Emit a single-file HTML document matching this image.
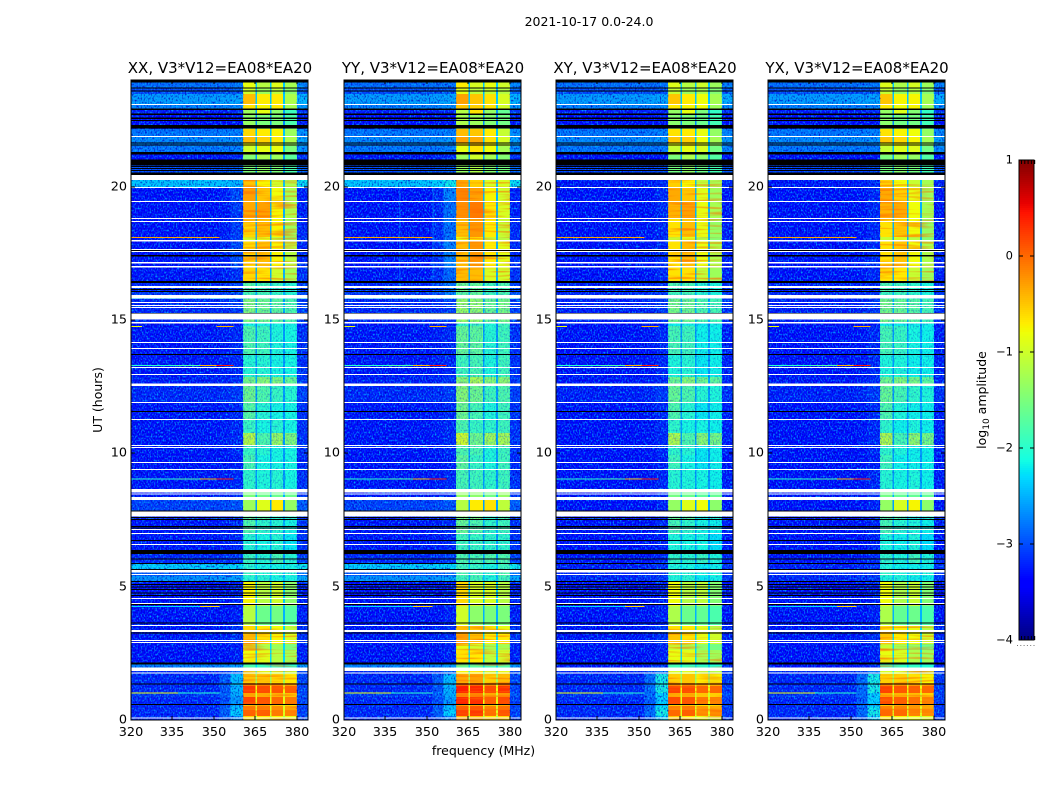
<!DOCTYPE html>
<html lang="en">
<head>
<meta charset="utf-8">
<title>2021-10-17 dynamic spectra</title>
<style>
html,body{margin:0;padding:0;background:#fff;}
body{width:1050px;height:800px;overflow:hidden;}
svg{display:block;}
text{font-family:"DejaVu Sans","Liberation Sans",sans-serif;fill:#000;}
</style>
</head>
<body>
<svg id="figure" xmlns="http://www.w3.org/2000/svg" width="1050" height="800" viewBox="0 0 1050 800">
  <defs>
    <filter id="speckle" x="0" y="0" width="100%" height="100%" color-interpolation-filters="sRGB">
      <feTurbulence type="fractalNoise" baseFrequency="0.68 0.5" numOctaves="1" seed="7" result="n"/>
      <feColorMatrix in="n" type="matrix" values="0 0 0 0 0  0 0 0 0 0.7  0 0 0 0 1  2.6 0 0 0 -1.2" result="light"/>
      <feColorMatrix in="n" type="matrix" values="0 0 0 0 0  0 0 0 0 0  0 0 0 0 0.75  0 2.6 0 0 -1.2" result="dark"/>
      <feMerge><feMergeNode in="dark"/><feMergeNode in="light"/></feMerge>
    </filter>
    <filter id="stripes" x="0" y="0" width="100%" height="100%" color-interpolation-filters="sRGB">
      <feTurbulence type="fractalNoise" baseFrequency="0.03 0.45" numOctaves="1" seed="11"/>
      <feColorMatrix type="matrix" values="0 0 0 0 1  0 0 0 0 0.4  0 0 0 0 0  2.2 0 0 0 -1.05"/>
    </filter>
  </defs>
  <text x="589" y="26" font-size="12.5" text-anchor="middle">2021-10-17 0.0-24.0</text>
  <g id="panels"></g>
  <text x="0" y="0" font-size="12.5" text-anchor="middle" transform="translate(102 400) rotate(-90)">UT (hours)</text>
  <text x="483.5" y="755" font-size="12.5" text-anchor="middle">frequency (MHz)</text>
  <g id="colorbar"></g>
  <text x="0" y="0" font-size="12.5" text-anchor="middle" transform="translate(986 400) rotate(-90)">log<tspan font-size="9" dy="3">10</tspan><tspan dy="-3"> amplitude</tspan></text>
</svg>
<script>
// ---- chart data (UT hours, MHz, log10 amplitude) ----
const panelTitles = ['XX, V3*V12=EA08*EA20','YY, V3*V12=EA08*EA20','XY, V3*V12=EA08*EA20','YX, V3*V12=EA08*EA20'];
const xTicks = [320,335,350,365,380];
const yTicks = [0,5,10,15,20];
const colorTicks = [1,0,-1,-2,-3,-4];
const freqEdges = [320,352,356,360.5,365,365.6,370.2,370.8,375,375.6,380,384];
const utEdges = [0,.15,.375,.525,.6,.863,1.013,1.275,1.388,1.725,
  1.838,2.1,2.175,2.625,2.85,3.263,3.525,4.275,5.213,5.4,
  5.625,5.888,6.375,7.013,7.5,7.838,8.25,8.625,9.375,9.938,
  10.313,10.763,11.25,11.888,12.525,12.863,13.725,14.775,14.925,15.788,
  15.938,16.088,16.463,16.95,17.963,18.113,18.675,18.825,19.425,19.95,
  20.25,20.475,20.813,21.038,21.188,21.3,21.525,21.638,21.9,22.163,
  22.313,22.538,22.688,22.875,23.1,23.475,23.7,23.888,24];
const offCo = [-3.25,-3.25,-3.25,-3.25,-3.25,-3.15,-3.25,-3.25,-3.25,-3.25,
  -2.75,-3.45,-3.45,-3.45,-3.35,-3.35,-3.45,-3.45,-2.65,-2.95,
  -2.3,-3.25,-3.35,-3.35,-3.3,-3.1,-3.35,-3.35,-3.4,-3.35,
  -3.35,-3.35,-3.35,-3.25,-3.3,-3.35,-3.35,-3.45,-3.25,-2.45,
  -3.15,-3.25,-3.35,-3.4,-3.35,-3.4,-3.45,-3.45,-3.45,-2.35,
  -3.05,-3.05,-3.35,-3.35,-3.35,-2.8,-2.75,-2.7,-2.8,-3.45,
  -3.45,-3.45,-3.3,-2.75,-2.6,-3.05,-2.85,-2.85];
const offCross = [-3.25,-3.25,-3.25,-3.25,-3.25,-3.15,-3.25,-3.25,-3.25,-3.25,
  -3.35,-3.45,-3.45,-3.45,-3.35,-3.35,-3.45,-3.45,-3.25,-3.25,
  -3.3,-3.35,-3.45,-3.4,-3.35,-3.45,-3.4,-3.4,-3.45,-3.4,
  -3.4,-3.4,-3.4,-3.3,-3.35,-3.4,-3.4,-3.45,-3.3,-3.2,
  -3.25,-3.3,-3.4,-3.4,-3.4,-3.4,-3.45,-3.45,-3.45,-3.35,
  -3.1,-3.1,-3.35,-3.45,-3.45,-2.8,-2.75,-2.7,-2.8,-3.45,
  -3.45,-3.45,-3.3,-2.75,-2.6,-3.05,-2.85,-2.85];
const nearCo = [-2.7,-2.3,-2.4,-2.6,-2.6,-2.5,-2.45,-2.4,-2.4,-2.9,
  -2.6,-3.3,-3.3,-3.3,-3.2,-3.2,-3.3,-3.3,-2.55,-2.85,
  -2.25,-3.15,-3.25,-3.25,-3.2,-3.0,-3.25,-3.25,-3.3,-3.25,
  -3.25,-3.25,-3.25,-3.15,-3.2,-3.25,-3.25,-3.35,-3.15,-2.4,
  -3.05,-3.15,-3.2,-3.05,-3.15,-3.15,-3.15,-3.15,-3.05,-2.45,
  -2.95,-2.95,-3.25,-3.25,-3.25,-2.75,-2.7,-2.65,-2.75,-3.35,
  -3.35,-3.35,-3.25,-2.7,-2.55,-2.95,-2.8,-2.8];
const nearCross = [-2.3,-2.1,-2.2,-2.5,-2.3,-2.3,-2.1,-2.1,-2.1,-2.8,
  -3.2,-3.3,-3.3,-3.3,-3.2,-3.2,-3.3,-3.3,-3.15,-3.2,
  -3.2,-3.25,-3.3,-3.25,-3.25,-3.3,-3.25,-3.25,-3.3,-3.25,
  -3.25,-3.25,-3.25,-3.15,-3.25,-3.25,-3.25,-3.35,-3.15,-3.15,
  -3.15,-3.25,-3.25,-3.25,-3.25,-3.25,-3.25,-3.25,-3.25,-3.25,
  -3.05,-3.05,-3.25,-3.35,-3.35,-2.8,-2.75,-2.65,-2.75,-3.35,
  -3.35,-3.35,-3.25,-2.7,-2.55,-3.0,-2.8,-2.8];
const sub1 = [-0.6,0.05,-0.1,-0.5,0.2,-0.3,0.25,-0.1,-0.5,-0.9,
  -1.8,-0.8,-0.8,-1.0,-0.45,-0.6,-1.15,-0.75,-2.0,-1.9,
  -2.0,-1.9,-2.0,-1.75,-1.6,-1.3,-1.5,-1.95,-1.8,-1.9,
  -1.1,-1.9,-1.7,-1.55,-1.5,-2.0,-1.75,-2.1,-1.45,-1.8,
  -1.8,-1.7,-0.6,-0.6,-1.0,-0.6,-0.6,-0.35,-0.3,-0.5,
  -1.5,-1.5,-1.5,-1.45,-1.2,-1.0,-0.8,-0.45,-0.6,-1.2,
  -1.35,-1.4,-1.3,-0.65,-0.45,-1.0,-0.85,-0.85];
const sub2 = [-0.7,0.05,-0.1,-0.5,0.1,-0.35,0.15,-0.15,-0.5,-0.9,
  -1.9,-0.9,-0.9,-1.2,-0.65,-0.7,-1.6,-1.15,-2.0,-2.0,
  -2.1,-2.0,-2.1,-1.95,-1.7,-0.9,-1.6,-2.05,-2.1,-2.0,
  -1.75,-2.1,-2.0,-1.75,-1.4,-2.0,-1.85,-2.1,-1.55,-1.8,
  -1.8,-1.8,-0.65,-0.45,-0.9,-0.45,-0.5,-0.3,-0.5,-0.75,
  -1.5,-1.4,-1.4,-1.2,-1.2,-0.85,-0.7,-0.55,-0.7,-1.2,
  -1.5,-1.5,-0.85,-0.75,-0.7,-1.3,-1.15,-1.15];
const sub3 = [-0.75,-0.1,-0.2,-0.55,0.0,-0.4,0.1,-0.2,-0.6,-1.0,
  -1.9,-1.15,-1.15,-1.3,-0.75,-0.8,-1.55,-1.0,-2.1,-2.0,
  -2.1,-1.8,-2.0,-2.0,-2.0,-0.7,-1.6,-2.0,-2.1,-2.1,
  -1.3,-2.0,-2.1,-1.9,-1.45,-2.1,-2.05,-2.1,-1.65,-1.9,
  -1.9,-1.9,-1.0,-0.75,-1.1,-0.75,-0.75,-0.75,-0.8,-1.0,
  -1.5,-1.5,-1.4,-1.3,-1.2,-0.85,-0.8,-0.7,-0.75,-1.2,
  -1.5,-1.5,-1.4,-0.7,-0.7,-1.1,-0.9,-0.9];
const sub4 = [-0.85,-0.15,-0.3,-0.6,-0.1,-0.5,0.05,-0.3,-0.7,-1.1,
  -2.0,-1.25,-1.25,-1.5,-0.95,-1.1,-1.75,-1.4,-2.1,-2.0,
  -2.1,-2.0,-2.2,-2.1,-2.0,-1.35,-1.6,-2.1,-2.1,-2.1,
  -1.45,-2.1,-2.1,-2.0,-1.6,-2.1,-2.1,-2.1,-1.75,-2.0,
  -2.0,-2.0,-1.25,-1.15,-1.4,-1.3,-1.3,-1.2,-1.25,-1.2,
  -1.7,-1.8,-1.7,-1.7,-1.6,-1.5,-1.3,-1.2,-1.3,-1.6,
  -1.8,-1.8,-1.9,-1.25,-1.2,-1.4,-1.25,-1.25];
const gapLevel = [-1.2,-0.9,-0.9,-1.1,-0.85,-1.0,-0.8,-1.0,-1.3,-1.9,
  -2.3,-2.3,-2.3,-2.3,-2.3,-2.3,-2.5,-2.4,-2.4,-2.4,
  -2.3,-2.6,-2.6,-2.5,-2.5,-2.6,-2.5,-2.6,-2.6,-2.6,
  -2.6,-2.6,-2.6,-2.6,-2.5,-2.6,-2.6,-2.7,-2.5,-2.4,
  -2.5,-2.5,-2.5,-2.5,-2.5,-2.5,-2.5,-2.5,-2.5,-2.4,
  -2.6,-2.6,-2.6,-2.6,-2.6,-2.4,-2.4,-2.4,-2.4,-2.7,
  -2.7,-2.7,-2.6,-2.4,-2.4,-2.5,-2.4,-2.4];
const bandGainXX = [0,0,0,0];
const bandGainYY = [0.15,0.2,0.05,0.25];
const bandGainXY = [-0.05,0,-0.1,-0.05];
const bandGainYX = [-0.05,-0.05,-0.05,-0.05];
const nearGain = [0,0.3,0,0];
const rightGain = [0.15,0.15,0.1,0.1];
const blankSpans = [[23.06,23.10],[21.86,21.90],[20.25,20.46],[19.95,19.99],[19.43,19.46],[18.79,18.83],[18.68,18.71],
  [17.94,18.0],[17.63,17.66],[17.55,17.59],[17.12,17.18],[16.97,17.03],[16.2,16.28],[15.81,15.94],[15.64,15.68],
  [15.53,15.56],[15.45,15.49],[15.02,15.24],[14.87,14.93],[14.14,14.18],[13.91,13.95],[13.2,13.24],[12.94,12.98],
  [12.53,12.62],[11.89,11.93],[11.25,11.29],[10.28,10.31],[10.2,10.24],[9.64,9.68],[9.38,9.41],[8.53,8.66],
  [8.46,8.49],[8.25,8.36],[7.63,7.82],[7.13,7.16],[6.98,7.01],[6.56,6.6],[5.85,5.89],[5.53,5.63],[5.44,5.48],
  [4.54,4.58],[4.35,4.39],[3.53,3.56],[3.3,3.38],[2.96,3.0],[2.89,2.93],[1.84,1.97],[1.74,1.78],[0.06,0.09]];
const flaggedSpans = [[23.9,24],[23.68,23.72],[23.57,23.6],[22.88,22.93],[22.69,22.74],[22.54,22.6],
  [22.46,22.5],[22.18,22.31],[21.62,21.65],[21.54,21.58],[21.21,21.3],[20.8,21.02],[20.74,20.77],[20.66,20.7],
  [20.59,20.62],[20.44,20.53],[17.59,17.63],[17.38,17.44],[16.39,16.46],[16.13,16.17],[16.05,16.09],[15.24,15.26],
  [13.69,13.73],[11.55,11.59],[7.82,7.86],[7.57,7.61],[7.5,7.54],[7.24,7.28],[7.18,7.22],[6.71,6.75],
  [6.23,6.38],[6.02,6.06],[5.85,5.89],[5.63,5.66],[5.18,5.21],[5.06,5.1],[4.97,5.0],[4.88,4.91],[4.75,4.78],
  [4.65,4.69],[4.31,4.35],[3.62,3.66],[3.24,3.28],[2.08,2.16],[1.33,1.37],[0.56,0.6]];
const flareUT = [1.01,1.01,4.26,4.26,9.04,9.04,9.04,9.04,13.29,13.29,13.29,13.29,14.76,14.76,18.09];
const flareStart = [320,337,320,345,320,336,345,351,320,336,345,351,320,351,320];
const flareEnd = [337,352,345,352,336,345,351,357,336,345,351,357,324,357,352];
const flareLevel = [-0.8,-2.0,-2.3,-0.6,-2.0,-1.8,-0.4,0.4,-2.0,-1.8,-0.4,0.4,-0.8,-0.4,-0.3];
const streakFreqYY = [340,352];
const stripeSpans = [[0,2.1],[2.2,3.5],[16.46,20.25]];
const speckleSpans = [[5.2,7.84],[8.6,16.46]];

// ---- layout and scales ----
const NS = 'http://www.w3.org/2000/svg';
const panelLeft = [131,344,556,768];
const panelWidth = 177, plotTop = 80, plotHeight = 640;
const bandGains = [bandGainXX,bandGainYY,bandGainXY,bandGainYX];
function xScale(f,left){return left+(f-320)/64*panelWidth;}
function yScale(t){return plotTop+plotHeight-(t/24)*plotHeight;}
function colorScale(v){return 160+(1-v)/5*480;}
function interp(t,pts){
  for(let i=1;i<pts.length;i++){
    if(t<=pts[i][0]){const a=pts[i-1],b=pts[i];return a[1]+(b[1]-a[1])*(t-a[0])/(b[0]-a[0]);}
  }
  return pts[pts.length-1][1];
}
const jetR=[[0,0],[.35,0],[.66,1],[.89,1],[1,.5]];
const jetG=[[0,0],[.125,0],[.375,1],[.64,1],[.91,0],[1,0]];
const jetB=[[0,.5],[.11,1],[.34,1],[.65,0],[1,0]];
function jet(v){
  const t=Math.max(0,Math.min(1,(v+4)/5));
  const c=p=>Math.round(255*interp(t,p));
  return 'rgb('+c(jetR)+','+c(jetG)+','+c(jetB)+')';
}
function mk(tag,attrs,parent){
  const el=document.createElementNS(NS,tag);
  for(const k in attrs){el.setAttribute(k,attrs[k]);}
  parent.appendChild(el);
  return el;
}
function nearActive(r){return utEdges[r]>=15.9&&utEdges[r]<20;}
function rowLevels(p,r){
  const cross=p>=2;
  const off=(cross?offCross:offCo)[r];
  const near=(cross?nearCross:nearCo)[r]+nearGain[p]*(nearActive(r)?1:0);
  const g=bandGains[p];
  return [off,(2*off+near)/3,near,
    sub1[r]+g[0],gapLevel[r],sub2[r]+g[1],gapLevel[r],
    sub3[r]+g[2],gapLevel[r],sub4[r]+g[3],off+rightGain[p]];
}

// ---- panels ----
const panels=document.getElementById('panels');
panelTitles.forEach(function(title,p){
  const L=panelLeft[p];
  const g=mk('g',{},panels);
  
  

  const cells=mk('g',{'shape-rendering':'crispEdges'},g);
  
  
  for(let r=0;r<utEdges.length-1;r++){
    const levels=rowLevels(p,r);
    const y1=yScale(utEdges[r+1]),y0=yScale(utEdges[r]);
    for(let c=0;c<freqEdges.length-1;c++){
      const x0=xScale(freqEdges[c],L),x1=xScale(freqEdges[c+1],L);
      const cell=mk('rect',{x:x0,y:y1,width:x1-x0,height:y0-y1,fill:jet(levels[c])},cells);
      
      
    }
  }

  const tex=mk('g',{},g);
  
  
  [[320,360.5],[380,384]].forEach(function(range){
    const tx=mk('rect',{x:xScale(range[0],L),y:plotTop,width:xScale(range[1],L)-xScale(range[0],L),height:plotHeight,filter:'url(#speckle)',fill:'#000'},tex);
    
    
  });
  const bandL=xScale(360.5,L),bandW=xScale(380,L)-bandL;
  stripeSpans.forEach(function(s){
    const tx=mk('rect',{x:bandL,y:yScale(s[1]),width:bandW,height:yScale(s[0])-yScale(s[1]),filter:'url(#stripes)',fill:'#000'},tex);
    
    
  });
  speckleSpans.forEach(function(s){
    const tx=mk('rect',{x:bandL,y:yScale(s[1]),width:bandW,height:yScale(s[0])-yScale(s[1]),filter:'url(#speckle)',fill:'#000',opacity:0.45},tex);
    
    
  });
  if(p===1){
    streakFreqYY.forEach(function(f){
      const st=mk('rect',{x:xScale(f,L),y:yScale(20),width:1,height:yScale(15.9)-yScale(20),fill:'#00c8ff',opacity:0.4},tex);
      
      
    });
  }

  const lines=mk('g',{'shape-rendering':'crispEdges'},g);
  
  
  flareUT.forEach(function(t,i){
    const ln=mk('rect',{x:xScale(flareStart[i],L),y:yScale(t)-0.5,width:xScale(flareEnd[i],L)-xScale(flareStart[i],L),height:1,fill:jet(flareLevel[i])},lines);
    
    
  });
  blankSpans.forEach(function(s){
    const b=mk('rect',{x:L,y:yScale(s[1]),width:panelWidth,height:yScale(s[0])-yScale(s[1]),fill:'#fff'},lines);
    
    
  });
  flaggedSpans.forEach(function(s){
    const b=mk('rect',{x:L,y:yScale(s[1]),width:panelWidth,height:yScale(s[0])-yScale(s[1]),fill:'#000'},lines);
    
    
  });

  const frame=mk('rect',{x:L,y:plotTop,width:panelWidth,height:plotHeight,fill:'none',stroke:'#000','stroke-width':1},g);
  
  

  xTicks.forEach(function(f){
    const x=Math.round(xScale(f,L));
    const tb=mk('line',{x1:x,x2:x,y1:plotTop+plotHeight,y2:plotTop+plotHeight-4,stroke:'#000'},g);
    
    
    const tt=mk('line',{x1:x,x2:x,y1:plotTop,y2:plotTop+4,stroke:'#000'},g);
    
    
    const lb=mk('text',{x:x,y:736,'font-size':12.8,'text-anchor':'middle'},g);
    lb.textContent=f;
    
    
  });
  yTicks.forEach(function(t){
    const y=Math.round(yScale(t));
    const tl=mk('line',{x1:L,x2:L+4,y1:y,y2:y,stroke:'#000'},g);
    
    
    const tr=mk('line',{x1:L+panelWidth,x2:L+panelWidth-4,y1:y,y2:y,stroke:'#000'},g);
    
    
    const lb=mk('text',{x:L-4,y:y+3.5,'font-size':12.8,'text-anchor':'end'},g);
    lb.textContent=t;
    
    
  });
  const tt=mk('text',{x:L+panelWidth/2+0.5,y:73,'font-size':15,'text-anchor':'middle'},g);
  tt.textContent=title;
  
  
});

// ---- colorbar ----
const cbar=document.getElementById('colorbar');
const cbL=1019,cbW=15;
const ramp=mk('g',{'shape-rendering':'crispEdges'},cbar);


for(let i=0;i<240;i++){
  const hi=1-i*5/240,lo=hi-5/240;
  const seg=mk('rect',{x:cbL,y:colorScale(hi),width:cbW,height:colorScale(lo)-colorScale(hi)+0.5,fill:jet((hi+lo)/2)},ramp);
  
  
}
const cf=mk('rect',{x:cbL,y:160,width:cbW,height:480,fill:'none',stroke:'#000','stroke-width':1},cbar);


colorTicks.forEach(function(v){
  const y=Math.round(colorScale(v));
  const a=mk('line',{x1:cbL,x2:cbL+4,y1:y,y2:y,stroke:'#000'},cbar);
  
  
  const b=mk('line',{x1:cbL+cbW,x2:cbL+cbW-4,y1:y,y2:y,stroke:'#000'},cbar);
  
  
  const lb=mk('text',{x:1013,y:y+3.5,'font-size':11.5,'text-anchor':'end'},cbar);
  lb.textContent=String(v).replace('-','\u2212');
  
  
});
[0,1,2,3,4].forEach(function(i){
  const x=cbL+2.5+i*3.3;
  const a=mk('line',{x1:x,x2:x,y1:160,y2:164,stroke:'#000'},cbar);
  
  
  const b=mk('line',{x1:x,x2:x,y1:640,y2:636,stroke:'#000'},cbar);
  
  
});
const dots=mk('line',{x1:1017,x2:1036,y1:645.5,y2:645.5,stroke:'#777','stroke-width':1,'stroke-dasharray':'1 2.3'},cbar);


</script>
</body>
</html>
